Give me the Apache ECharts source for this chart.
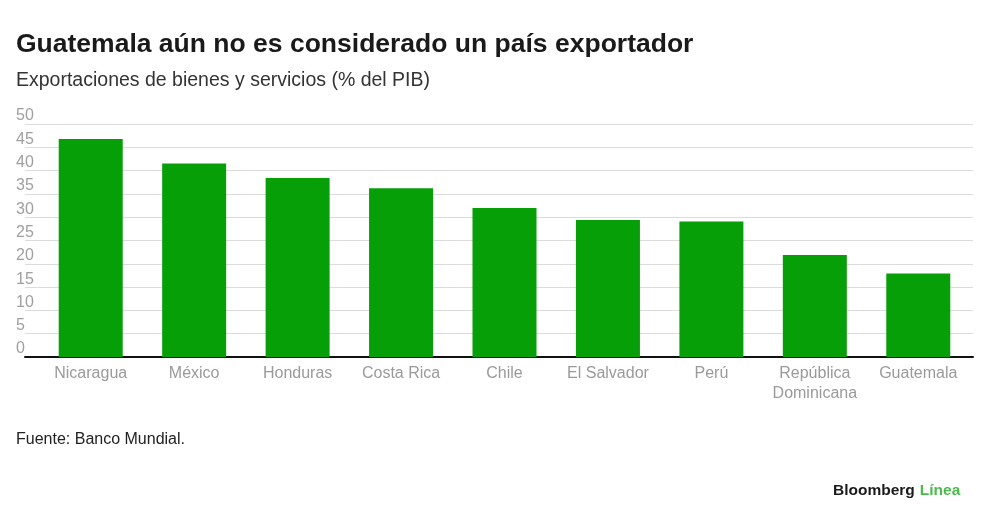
<!DOCTYPE html>
<html>
<head>
<meta charset="utf-8">
<script src="https://cdn.jsdelivr.net/npm/echarts@6/dist/echarts.min.js"></script>
<style>
  html, body { margin: 0; padding: 0; background: #fff; }
  #chart { width: 1000px; height: 528px; }
</style>
</head>
<body>
<div id="chart"></div>
<script>
// datos
var paises = ['Nicaragua', 'México', 'Honduras', 'Costa Rica', 'Chile', 'El Salvador', 'Perú', 'República\nDominicana', 'Guatemala'];
var exportaciones = [46.8, 41.5, 38.4, 36.2, 32.0, 29.4, 29.1, 21.9, 17.9];
var yTicks = [0, 5, 10, 15, 20, 25, 30, 35, 40, 45, 50];

var verde = '#079f07';
var font = '"Liberation Sans", Arial, sans-serif';

var chart = echarts.init(document.getElementById('chart'));

chart.setOption({
    backgroundColor: '#fff',
    animation: false,
    textStyle: { fontFamily: font },
    title: [
        {
            text: 'Guatemala aún no es considerado un país exportador',
            left: 11, top: 26,
            textStyle: { fontSize: 26.5, fontWeight: 'bold', color: '#1a1a1a', fontFamily: font }
        },
        {
            text: 'Exportaciones de bienes y servicios (% del PIB)',
            left: 11, top: 66,
            textStyle: { fontSize: 19.5, fontWeight: 'normal', color: '#333', fontFamily: font }
        },
        {
            text: 'Fuente: Banco Mundial.',
            left: 11, top: 427,
            textStyle: { fontSize: 16, fontWeight: 'normal', color: '#222', fontFamily: font }
        },
        {
            text: '{b|Bloomberg} {g|Línea}',
            left: 828, top: 477,
            textStyle: {
                rich: {
                    b: { fontSize: 15.5, fontWeight: 'bold', color: '#1a1a1a', fontFamily: font },
                    g: { fontSize: 15.5, fontWeight: 'bold', color: '#4cbb4c', fontFamily: font }
                }
            }
        }
    ],
    grid: [
        { left: 25, right: 27, top: 124, bottom: 171 },
        { left: 39, right: 30, top: 124, bottom: 171 }
    ],
    xAxis: [
        {
            gridIndex: 0, type: 'value', min: 0, max: 1,
            axisLine: { show: true, lineStyle: { color: '#111', width: 2 } },
            axisTick: { show: false }, axisLabel: { show: false }, splitLine: { show: false }
        },
        {
            gridIndex: 1, type: 'category', data: paises,
            axisLine: { show: false }, axisTick: { show: false },
            axisLabel: { interval: 0, color: '#9a9a9a', fontSize: 16, margin: 7, lineHeight: 20, fontFamily: font }
        }
    ],
    yAxis: [
        {
            gridIndex: 0, type: 'value', min: yTicks[0], max: yTicks[yTicks.length - 1], interval: 5,
            axisLine: { show: false }, axisTick: { show: false },
            axisLabel: {
                inside: true, margin: -9, verticalAlign: 'bottom', align: 'left',
                color: '#a0a0a0', fontSize: 16, fontFamily: font
            },
            splitLine: { lineStyle: { color: '#dcdcdc', width: 1 } }
        },
        {
            gridIndex: 1, type: 'value', min: 0, max: 50, show: false
        }
    ],
    series: [
        {
            type: 'bar',
            xAxisIndex: 1, yAxisIndex: 1,
            data: exportaciones,
            barWidth: 64,
            itemStyle: { color: verde }
        }
    ]
});
</script>
</body>
</html>
